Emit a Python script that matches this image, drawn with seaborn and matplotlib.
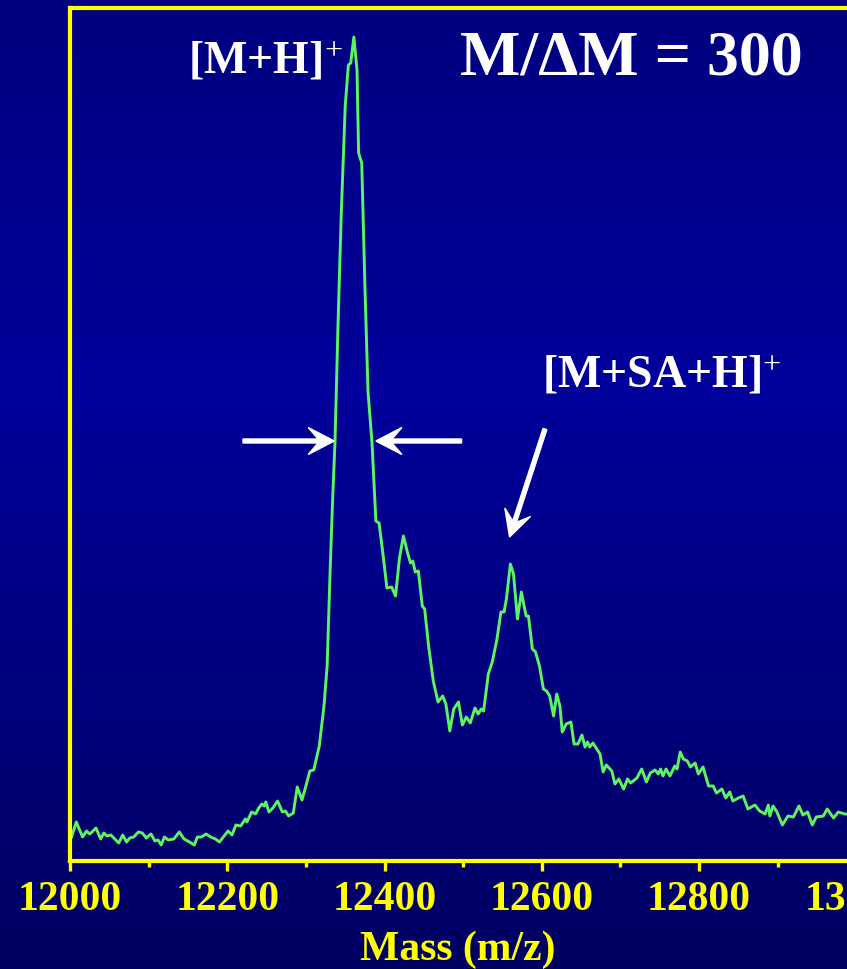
#import library
import numpy as np
import pandas as pd
import seaborn as sns
import matplotlib.pyplot as plt
from matplotlib.patches import FancyArrow
from matplotlib.transforms import IdentityTransform

#spectrum
mass = [12002, 12008, 12016, 12021, 12025, 12028, 12033, 12039, 12043, 12047,
        12052, 12062, 12067, 12072, 12076, 12081, 12087, 12092, 12097, 12103,
        12108, 12112, 12116, 12120, 12125, 12132, 12139, 12145, 12152, 12158,
        12162, 12167, 12173, 12179, 12185, 12190, 12196, 12201, 12206, 12211,
        12217, 12223, 12225, 12231, 12236, 12240, 12244, 12247, 12249, 12253,
        12258, 12264, 12270, 12274, 12278, 12284, 12289, 12295, 12300, 12305,
        12310, 12317, 12323, 12327, 12331, 12334, 12337, 12341, 12345, 12350,
        12354, 12357, 12361, 12365, 12367, 12371, 12375, 12379, 12384, 12389,
        12393, 12398, 12403, 12409, 12414, 12419, 12424, 12429, 12433, 12436,
        12439, 12443, 12448, 12451, 12456, 12462, 12468, 12474, 12478, 12483,
        12488, 12494, 12499, 12504, 12509, 12515, 12519, 12523, 12526, 12532,
        12537, 12543, 12548, 12552, 12555, 12560, 12564, 12569, 12574, 12580,
        12583, 12588, 12592, 12597, 12602, 12606, 12610, 12615, 12619, 12623,
        12626, 12631, 12637, 12641, 12646, 12651, 12655, 12658, 12661, 12665,
        12670, 12674, 12678, 12682, 12689, 12693, 12698, 12704, 12709, 12713,
        12721, 12727, 12733, 12738, 12744, 12748, 12751, 12754, 12758, 12763,
        12769, 12772, 12776, 12780, 12785, 12789, 12795, 12799, 12805, 12812,
        12818, 12822, 12829, 12834, 12839, 12843, 12850, 12856, 12862, 12871,
        12877, 12884, 12888, 12890, 12894, 12899, 12906, 12913, 12920, 12927,
        12932, 12938, 12944, 12949, 12958, 12963, 12971, 12977, 12985, 12998]
intensity = [24, 39, 24, 30, 27, 29, 33, 22, 28, 25,
             26, 18, 26, 19, 23, 24, 29, 28, 23, 27,
             20, 21, 16, 24, 21, 22, 29, 22, 19, 16,
             24, 24, 27, 24, 22, 19, 25, 30, 26, 36,
             35, 42, 39, 49, 47, 53, 57, 55, 59, 49,
             53, 60, 49, 50, 45, 48, 74, 61, 75, 90,
             91, 115, 155, 195, 295, 362, 419, 541, 648, 755,
             796, 798, 824, 791, 708, 698, 576, 469, 419, 340,
             338, 307, 273, 274, 265, 303, 325, 309, 298, 300,
             289, 290, 255, 252, 215, 180, 159, 165, 157, 130,
             152, 159, 136, 144, 138, 153, 147, 152, 150, 187,
             199, 222, 249, 249, 262, 297, 287, 242, 269, 245,
             245, 212, 209, 195, 172, 170, 165, 145, 167, 155,
             129, 137, 139, 117, 117, 126, 114, 119, 114, 118,
             112, 107, 89, 96, 90, 77, 82, 72, 82, 78,
             83, 92, 79, 88, 91, 87, 92, 85, 92, 85,
             95, 92, 109, 102, 100, 94, 98, 87, 94, 75,
             75, 68, 72, 63, 69, 60, 63, 65, 52, 56,
             50, 47, 56, 45, 55, 49, 36, 45, 44, 55,
             46, 49, 36, 44, 45, 52, 43, 49, 47, 47]

x_ticks = [12000, 12200, 12400, 12600, 12800, 13000]
x_minor = [12100, 12300, 12500, 12700, 12900]

df = pd.DataFrame({'Mass': mass, 'Intensity': intensity})

plt.rcParams['font.family'] = ['Liberation Serif', 'DejaVu Serif']
plt.rcParams['mathtext.fontset'] = 'custom'
plt.rcParams['mathtext.rm'] = 'Liberation Serif'
plt.rcParams['mathtext.it'] = 'Liberation Serif:italic'
plt.rcParams['mathtext.bf'] = 'Liberation Serif:bold'

W, H = 847, 970
fig = plt.figure(figsize=(W / 100, H / 100), dpi=100)

#background gradient (navy, a bit brighter in the middle)
bg = fig.add_axes([0, 0, 1, 1], zorder=-10)
rows = np.linspace(0, 1, 400)
blue = np.interp(rows, [0, 0.4, 1], [0.50, 0.61, 0.38])
grad = np.zeros((400, 2, 3))
grad[:, :, 2] = blue[:, None]
bg.imshow(grad, aspect='auto', extent=[0, 1, 0, 1], origin='upper')
bg.axis('off')

#main axes, wider than the figure so the right side is cut off
ax = fig.add_axes([70 / W, (H - 862) / H, 865 / W, 853.5 / H])
ax.set_facecolor('none')
sns.lineplot(data=df, x='Mass', y='Intensity', ax=ax, color='#5cf560',
             linewidth=2.1, estimator=None, sort=False)
ax.set_xlim(12000, 13100)
ax.set_ylim(0, 853.5)
ax.set_xlabel('')
ax.set_ylabel('')
ax.set_yticks([])
ax.set_xticks(x_ticks)
ax.set_xticks(x_minor, minor=True)
ax.set_xticklabels([str(t) for t in x_ticks], fontsize=30, fontweight='bold',
                   color='#ffff00')
ax.tick_params(axis='x', which='major', length=7.5, width=2.4, color='#ffff00',
               pad=6, direction='out')
ax.tick_params(axis='x', which='minor', length=4.5, width=2.4, color='#ffff00',
               direction='out')
for s in ax.spines.values():
    s.set_color('#ffff00')
    s.set_linewidth(3)

fig.text(458 / W, 1 - 950 / H, 'Mass (m/z)', fontsize=30, fontweight='bold',
         color='#ffff00', ha='center', va='center')

#labels
fig.text(188 / W, 1 - 73 / H, r'[M+H]$^{+}$', fontsize=33, fontweight='bold',
         color='white', ha='left', va='baseline')
fig.text(460 / W, 1 - 75 / H, 'M/\u0394M = 300', fontsize=46, fontweight='bold',
         color='white', ha='left', va='baseline')
fig.text(542 / W, 1 - 387 / H, r'[M+SA+H]$^{+}$', fontsize=33, fontweight='bold',
         color='white', ha='left', va='baseline')

#arrows (ends given in data units, head drawn in pixels)
def arrow(x0, y0, x1, y1):
    p0 = ax.transData.transform((x0, y0))
    p1 = ax.transData.transform((x1, y1))
    a = FancyArrow(p0[0], p0[1], p1[0] - p0[0], p1[1] - p0[1], width=4,
                   head_width=27, head_length=26, overhang=0.38,
                   length_includes_head=True, color='white',
                   transform=IdentityTransform())
    fig.patches.append(a)

arrow(12220, 420, 12336, 420)
arrow(12498, 420, 12389, 420)
arrow(12604, 432, 12559, 324)

plt.savefig('out.png', dpi=100)
